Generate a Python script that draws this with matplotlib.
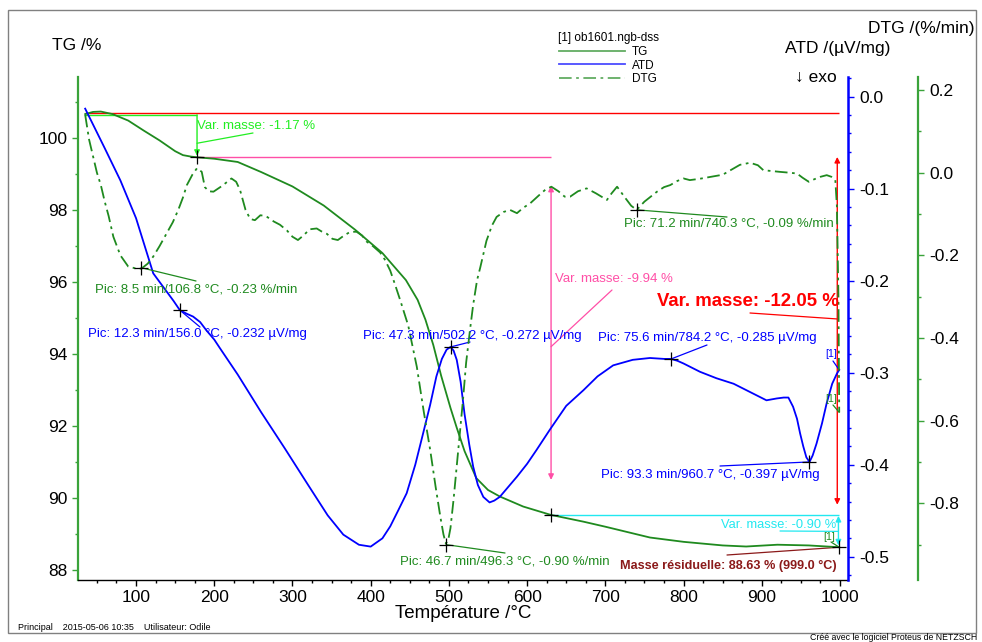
import matplotlib
matplotlib.use("Agg")
import matplotlib.pyplot as plt
from matplotlib.ticker import MultipleLocator, FormatStrFormatter
from matplotlib.patches import Rectangle

plt.rcParams['font.family'] = ['Liberation Sans', 'DejaVu Sans']
plt.rcParams['axes.unicode_minus'] = False

# ---------------- data ----------------
tg_T = [35, 45, 55, 70, 90, 110, 130, 140, 150, 160, 170, 178, 200, 230, 260, 300, 340,
        380, 415, 445, 460, 470, 480, 490, 496, 502, 510, 520, 535, 550, 565, 595, 630,
        672, 700, 757, 800, 850, 880, 920, 960, 999]
tg_V = [100.66, 100.72, 100.73, 100.66, 100.48, 100.2, 99.93, 99.78, 99.63, 99.52, 99.48,
        99.46, 99.42, 99.33, 99.05, 98.65, 98.12, 97.45, 96.8, 96.05, 95.5, 94.95, 94.25,
        93.4, 92.95, 92.5, 91.95, 91.3, 90.55, 90.22, 90.04, 89.76, 89.53, 89.34, 89.2,
        88.9, 88.78, 88.68, 88.65, 88.7, 88.68, 88.63]

atd_T = [35, 60, 80, 100, 122, 135, 148, 156, 165, 173, 182, 190, 200, 207, 230, 260, 290,
         320, 345, 365, 385, 400, 415, 425, 435, 446, 457, 467, 476, 484, 491, 497, 502,
         506, 510, 515, 520, 526, 531, 537, 544, 552, 558, 565, 575, 587, 600, 612, 629,
         650, 672, 690, 710, 735, 757, 775, 784, 792, 800, 821, 842, 864, 885, 906, 919,
         928, 934, 940, 945, 949, 953, 957, 961, 965, 970, 977, 983, 990, 996, 999]
atd_V = [-0.013, -0.056, -0.091, -0.132, -0.192, -0.207, -0.222, -0.232, -0.236, -0.239,
         -0.245, -0.254, -0.264, -0.273, -0.302, -0.343, -0.382, -0.422, -0.455, -0.476,
         -0.487, -0.489, -0.48, -0.467, -0.45, -0.431, -0.4, -0.366, -0.335, -0.304,
         -0.285, -0.275, -0.272, -0.276, -0.286, -0.31, -0.345, -0.378, -0.402, -0.422,
         -0.435, -0.441, -0.439, -0.435, -0.425, -0.413, -0.399, -0.384, -0.362, -0.336,
         -0.319, -0.304, -0.292, -0.286, -0.284, -0.285, -0.285, -0.287, -0.29, -0.299,
         -0.306, -0.312, -0.321, -0.33, -0.328, -0.327, -0.327, -0.337, -0.35, -0.366,
         -0.38, -0.392, -0.397, -0.39, -0.377, -0.355, -0.333, -0.312, -0.301, -0.297]

dtg_T = [35, 40, 45, 50, 55, 60, 65, 71, 80, 90, 100, 107, 115, 122, 130, 139, 147, 154,
         160, 165, 172, 178, 184, 188, 193, 199, 210, 222, 228, 233, 240, 246, 252, 259,
         266, 276, 284, 293, 300, 307, 314, 322, 331, 337, 344, 351, 358, 366, 374, 382,
         389, 395, 403, 412, 418, 425, 431, 438, 448, 459, 468, 476, 483, 489, 493, 496,
         499, 502, 506, 510, 514, 518, 522, 527, 531, 536, 540, 548, 555, 561, 570, 578,
         587, 595, 604, 615, 624, 631, 640, 648, 655, 665, 676, 688, 702, 708, 715, 725,
         733, 740, 750, 766, 775, 783, 792, 800, 808, 820, 835, 850, 862, 872, 885, 895,
         902, 912, 923, 935, 945, 952, 960, 967, 975, 983, 989, 994, 996, 998, 999]
dtg_V = [0.14, 0.08, 0.04, 0.0, -0.03, -0.07, -0.105, -0.155, -0.2, -0.227, -0.232, -0.232,
         -0.22, -0.203, -0.178, -0.147, -0.12, -0.09, -0.06, -0.03, -0.005, 0.011, 0.002,
         -0.035, -0.045, -0.046, -0.032, -0.014, -0.022, -0.042, -0.09, -0.112, -0.115,
         -0.103, -0.105, -0.118, -0.126, -0.14, -0.155, -0.163, -0.152, -0.137, -0.135,
         -0.142, -0.148, -0.16, -0.163, -0.152, -0.143, -0.143, -0.152, -0.167, -0.178,
         -0.193, -0.21, -0.237, -0.27, -0.31, -0.37, -0.47, -0.58, -0.67, -0.76, -0.832,
         -0.875, -0.897, -0.89, -0.86, -0.79, -0.71, -0.63, -0.55, -0.46, -0.38, -0.32,
         -0.26, -0.23, -0.165, -0.128, -0.107, -0.095, -0.09, -0.098, -0.085, -0.074,
         -0.055, -0.04, -0.034, -0.045, -0.058, -0.058, -0.045, -0.038, -0.05, -0.066,
         -0.05, -0.034, -0.06, -0.08, -0.09, -0.07, -0.046, -0.035, -0.03, -0.02, -0.014,
         -0.018, -0.015, -0.01, -0.005, 0.008, 0.019, 0.024, 0.018, 0.006, 0.004, 0.002,
         0.0, -0.002, -0.012, -0.022, -0.016, -0.01, -0.006, -0.01, -0.018, -0.08, -0.3,
         -0.58]

# peaks / steps read from the annotations
dtg_peaks_T = [106.8, 496.3, 740.3]
dtg_peaks_V = [-0.23, -0.90, -0.09]
atd_peaks_T = [156.0, 502.2, 784.2, 960.7]
atd_peaks_V = [-0.232, -0.272, -0.285, -0.397]
tg_steps_T = [178.0, 630.6, 999.0]
tg_steps_V = [99.47, 89.53, 88.63]
tg_start_T = 35.0
tg_start_hi = 100.68
tg_start_lo = 100.64

x_ticks = [100, 200, 300, 400, 500, 600, 700, 800, 900, 1000]
tg_ticks = [88, 90, 92, 94, 96, 98, 100]
atd_ticks = [0.0, -0.1, -0.2, -0.3, -0.4, -0.5]
dtg_ticks = [0.2, 0.0, -0.2, -0.4, -0.6, -0.8]

# ---------------- style ----------------
W, H = 982, 642
C_TG = '#1f8a1f'
C_SP = '#3aa33a'
C_BL = '#0000ff'
C_RED = '#ff0000'
C_PINK = '#ff4fa7'
C_CYAN = '#22e8f0'
C_LIME = '#22ee22'
C_DRED = '#8b1a1a'

fig = plt.figure(figsize=(W / 100, H / 100), dpi=100)

def fx(x):
    return x / W

def fy(y):
    return 1 - y / H

L, R, T_, B_ = 78.3, 848.3, 77, 580
ax = fig.add_axes([fx(L), fy(B_), (R - L) / W, (B_ - T_) / H])
ax2 = ax.twinx()
ax3 = ax.twinx()

ax.set_xlim(26.2, 1010.6)
ax.set_ylim(87.72, 101.69)
ax2.set_ylim(-0.5253, 0.0214)
ax3.set_ylim(-0.9856, 0.2315)

for a in (ax, ax2, ax3):
    for s in a.spines.values():
        s.set_visible(False)
    a.patch.set_visible(False)

ax.spines['left'].set_visible(True)
ax.spines['left'].set_color(C_SP)
ax.spines['left'].set_linewidth(1.6)
ax.spines['bottom'].set_visible(True)
ax.spines['bottom'].set_color('black')
ax.spines['bottom'].set_linewidth(1.0)
ax2.spines['right'].set_visible(True)
ax2.spines['right'].set_color(C_BL)
ax2.spines['right'].set_linewidth(1.8)
ax3.spines['right'].set_visible(True)
ax3.spines['right'].set_color(C_SP)
ax3.spines['right'].set_linewidth(1.6)
ax3.spines['right'].set_position(('axes', (918 - L) / (R - L)))

FS = 12.5
ax.set_xticks(x_ticks)
ax.xaxis.set_minor_locator(MultipleLocator(25))
ax.set_yticks(tg_ticks)
ax.yaxis.set_minor_locator(MultipleLocator(1))
ax.tick_params(axis='x', which='major', length=4, width=1, direction='out', labelsize=FS, pad=3)
ax.tick_params(axis='x', which='minor', length=2.5, width=1, direction='out')
ax.tick_params(axis='y', which='major', length=4, width=1, color=C_SP, direction='out', labelsize=FS, pad=4)
ax.tick_params(axis='y', which='minor', length=2.5, width=1, color=C_SP, direction='out')

ax2.set_yticks(atd_ticks)
ax2.yaxis.set_minor_locator(MultipleLocator(0.02))
ax2.yaxis.set_major_formatter(FormatStrFormatter('%.1f'))
ax2.tick_params(axis='y', which='major', length=4, width=1, color=C_BL, labelsize=FS, pad=4)
ax2.tick_params(axis='y', which='minor', length=2.5, width=1, color=C_BL)

ax3.set_yticks(dtg_ticks)
ax3.yaxis.set_minor_locator(MultipleLocator(0.1))
ax3.yaxis.set_major_formatter(FormatStrFormatter('%.1f'))
ax3.tick_params(axis='y', which='major', length=4, width=1, color=C_SP, labelsize=FS, pad=4)
ax3.tick_params(axis='y', which='minor', length=2.5, width=1, color=C_SP)

ax.set_xlabel('Température /°C', fontsize=13.5, labelpad=0)

# ---------------- curves ----------------
l_tg, = ax.plot(tg_T, tg_V, color=C_TG, lw=1.3, label='TG', zorder=5)
l_atd, = ax2.plot(atd_T, atd_V, color=C_BL, lw=1.3, label='ATD', zorder=5)
l_dtg, = ax3.plot(dtg_T, dtg_V, color=C_TG, lw=1.3, ls=(0, (7, 2.5, 1.5, 2.5)), label='DTG', zorder=5)

# ---------------- step lines ----------------
ax.hlines(tg_start_hi, tg_start_T, tg_steps_T[2], color=C_RED, lw=1.0, zorder=3)
ax.hlines(tg_start_lo, tg_start_T, tg_steps_T[0], color=C_LIME, lw=1.0, zorder=3)
ax.hlines(tg_steps_V[0], tg_steps_T[0], tg_steps_T[1], color=C_PINK, lw=1.0, zorder=3)
ax.hlines(tg_steps_V[1], tg_steps_T[1], tg_steps_T[2], color=C_CYAN, lw=1.0, zorder=3)

def arrow(a, x, y0, y1, color, both=True, lw=1.0):
    a.annotate('', xy=(x, y1), xytext=(x, y0),
               arrowprops=dict(arrowstyle='<|-|>' if both else '-|>', color=color, lw=lw,
                               mutation_scale=8, shrinkA=0, shrinkB=0), zorder=4)

arrow(ax, 178.0, 100.64, 99.50, C_LIME, both=False)
arrow(ax, 630.6, 98.67, 90.50, C_PINK)
arrow(ax, 996.5, 99.47, 89.81, C_RED)
arrow(ax, 998.0, 89.50, 88.68, C_CYAN)

# ---------------- markers ----------------
mk = dict(marker='+', color='black', ms=10, mew=0.9, ls='none', zorder=7)
ax3.plot(dtg_peaks_T, dtg_peaks_V, **mk)
ax2.plot(atd_peaks_T, atd_peaks_V, **mk)
ax.plot(tg_steps_T, tg_steps_V, **mk)

# ---------------- annotations ----------------
def lead(a, xy, px, color, lw=0.9):
    a.annotate('', xy=xy, xycoords='data', xytext=(px[0], H - px[1]), textcoords='figure pixels',
               arrowprops=dict(arrowstyle='-', color=color, lw=lw, shrinkA=0, shrinkB=0), zorder=4)

def label(x, y, s, color, size=9.5, weight='normal', ha='left'):
    fig.text(fx(x), fy(y), s, color=color, fontsize=size, fontweight=weight, ha=ha, va='center')

label(197, 126, 'Var. masse: -1.17 %', C_LIME)
lead(ax, (178.0, 99.85), (253, 133), C_LIME)

label(95, 289, 'Pic: 8.5 min/106.8 °C, -0.23 %/min', C_TG)
lead(ax3, (dtg_peaks_T[0], dtg_peaks_V[0]), (196, 281), C_TG)

label(88, 334, 'Pic: 12.3 min/156.0 °C, -0.232 µV/mg', C_BL)
lead(ax2, (atd_peaks_T[0], atd_peaks_V[0]), (200, 327), C_BL)

label(363, 336, 'Pic: 47.3 min/502.2 °C, -0.272 µV/mg', C_BL)
lead(ax2, (atd_peaks_T[1], atd_peaks_V[1]), (470, 342), C_BL)

label(555, 279, 'Var. masse: -9.94 %', C_PINK)
lead(ax, (630.6, 94.2), (612, 290), C_PINK)

label(657, 302, 'Var. masse: -12.05 %', C_RED, size=13.4, weight='bold')
lead(ax, (996.5, 94.97), (750, 313), C_RED)

label(624, 223, 'Pic: 71.2 min/740.3 °C, -0.09 %/min', C_TG)
lead(ax3, (dtg_peaks_T[2], dtg_peaks_V[2]), (727, 217), C_TG)

label(598, 338, 'Pic: 75.6 min/784.2 °C, -0.285 µV/mg', C_BL)
lead(ax2, (atd_peaks_T[2], atd_peaks_V[2]), (707, 345), C_BL)

label(601, 475, 'Pic: 93.3 min/960.7 °C, -0.397 µV/mg', C_BL)
lead(ax2, (atd_peaks_T[3], atd_peaks_V[3]), (720, 466), C_BL)

label(400, 561, 'Pic: 46.7 min/496.3 °C, -0.90 %/min', C_TG)
lead(ax3, (dtg_peaks_T[1], dtg_peaks_V[1]), (505, 553), C_TG)

label(721, 525, 'Var. masse: -0.90 %', C_CYAN, size=9.3)
lead(ax, (998.0, 89.07), (780, 531), C_CYAN)

label(620, 566, 'Masse résiduelle: 88.63 % (999.0 °C)', C_DRED, size=9.1, weight='bold')
lead(ax, (tg_steps_T[2], tg_steps_V[2]), (727, 555), C_DRED)

label(825, 354, '[1]', C_BL, size=7.5)
lead(ax2, (atd_T[-1], atd_V[-1]), (833, 361), C_BL)
label(825, 399, '[1]', C_TG, size=7.5)
lead(ax3, (dtg_T[-1], dtg_V[-1]), (833, 405), C_TG)
label(823, 537, '[1]', C_TG, size=7.5)
lead(ax, (tg_steps_T[2], tg_steps_V[2]), (831, 542), C_TG)

# ---------------- axis titles ----------------
fig.text(fx(52), fy(45), 'TG /%', fontsize=12.5, ha='left', va='center')
fig.text(fx(890), fy(48), 'ATD /(µV/mg)', fontsize=12.5, ha='right', va='center')
fig.text(fx(975), fy(29), 'DTG /(%/min)', fontsize=12.5, ha='right', va='center')
fig.text(fx(795), fy(77), '↓ exo', fontsize=12.5, ha='left', va='center')

# ---------------- legend ----------------
leg = fig.legend(handles=[l_tg, l_atd, l_dtg], labels=['TG', 'ATD', 'DTG'],
                 title='[1] ob1601.ngb-dss', loc='upper center',
                 bbox_to_anchor=(fx(608), fy(25)), frameon=False, fontsize=8.5,
                 title_fontsize=8.5, handlelength=5.6, handletextpad=0.6,
                 labelspacing=0.15, borderpad=0.1)
for lh in leg.get_lines():
    lh.set_alpha(0.7)

# ---------------- footer & frame ----------------
fig.text(fx(18), fy(627), 'Principal    2015-05-06 10:35    Utilisateur: Odile', fontsize=6.5,
         ha='left', va='center')
fig.text(fx(810), fy(637), 'Créé avec le logiciel Proteus de NETZSCH', fontsize=6.3,
         ha='left', va='center')
fig.patches.append(Rectangle((fx(8), fy(633)), (976 - 8) / W, (633 - 10) / H,
                             transform=fig.transFigure, fill=False, edgecolor='#808080', lw=1.0))

fig.savefig('out.png', dpi=100)
